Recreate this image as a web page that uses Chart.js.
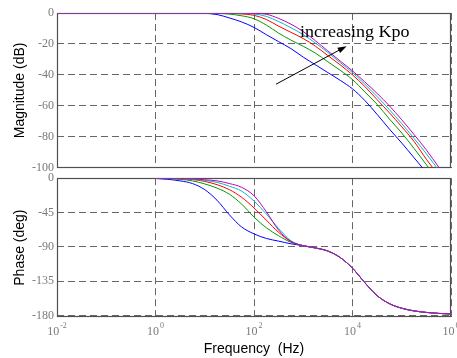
<!DOCTYPE html>
<html>
<head>
<meta charset="utf-8">
<title>Bode plot</title>
<script src="https://cdn.jsdelivr.net/npm/chart.js@4.4.1/dist/chart.umd.min.js"></script>
<style>
  body { margin: 0; background: #fff; }
  #wrap { position: relative; width: 457px; height: 358px; }
  #wrap canvas { position: absolute; left: 0; }
  #mag { top: 0; }
  #phase { top: 168px; }
</style>
</head>
<body>
<div id="wrap">
  <canvas id="mag" width="457" height="178"></canvas>
  <canvas id="phase" width="457" height="190"></canvas>
</div>
<script>
// frequency grid, quarter decades from 1 Hz up
const freqHz = [0.01, 0.1, 1, 1.78, 3.16, 5.62, 10, 17.8, 31.6, 56.2, 100, 178, 316, 562,
  1000, 1778, 3162, 5623, 10000, 17783, 31623, 56234, 100000, 177828, 316228, 562341, 1000000];
const phaseFreqHz = freqHz.slice(2);

// magnitude (dB), one list per Kpo value
const magBlue = [0, 0, 0, 0, 0, -0.05, -0.2, -1.0, -3.2, -5.8, -9.3, -14, -18.5, -23, -28.5, -33.5,
  -38.5, -43.5, -49, -56.5, -65.5, -75, -84, -93.5, -103];
const magGreen = [0, 0, 0, 0, 0, 0, 0, -0.2, -0.7, -1.8, -3.7, -7.8, -13, -17.5, -21.5, -26,
  -31.5, -37, -43, -51, -59, -68.5, -77.5, -87.5, -98, -108];
const magRed = [0, 0, 0, 0, 0, 0, 0, 0, -0.2, -0.6, -1.5, -4.2, -8.5, -12.5, -16.5, -21.5,
  -27.5, -33.5, -40, -47.5, -56, -64.5, -73.5, -83, -94.5, -105];
const magCyan = [0, 0, 0, 0, 0, 0, 0, 0, 0, -0.2, -0.6, -2.2, -5.5, -9.5, -14, -19.5,
  -25.5, -32, -38.5, -46, -54, -62.5, -71.5, -81, -91, -101.5];
const magMagenta = [0, 0, 0, 0, 0, 0, 0, 0, 0, 0, -0.2, -0.8, -3.5, -7.2, -12, -18,
  -24.5, -31, -37.4, -44.5, -52, -60, -69, -78.5, -88.5, -99.5, -110];

// phase (deg) from 1 Hz; above 1 kHz all curves lie on the same tail
const phaseTail = [-88.5, -91.5, -95.5, -104, -118, -137, -154, -164.5, -170.5, -174, -176, -177.3, -178];
const phaseBlue = [-0.3, -1.5, -3.5, -7, -15, -29, -48, -64, -73, -79, -82.5, -86, ...phaseTail];
const phaseGreen = [-0.2, -0.6, -1.5, -3.5, -7.5, -13, -21, -34, -51, -65, -75.5, -84, ...phaseTail];
const phaseRed = [-0.1, -0.3, -0.7, -1.8, -4.2, -8.5, -15, -25, -39, -55, -71, -83, ...phaseTail];
const phaseCyan = [0, -0.2, -0.5, -1.2, -3, -5.5, -10.5, -17, -30, -47, -66, -82, ...phaseTail];
const phaseMagenta = [0, -0.1, -0.3, -0.8, -2, -3.5, -7, -12, -23, -44, -68, -83, ...phaseTail];

const magTicks = [0, -20, -40, -60, -80, -100];
const phaseTicks = [0, -45, -90, -135, -180];
const decadeExponents = [-2, 0, 2, 4, 6];

const seriesColors = ['#0000ff', '#009900', '#ff0000', '#00bfbf', '#bf00bf'];
const serif = '"Liberation Serif", "Times New Roman", serif';
const sans = '"Liberation Sans", Arial, sans-serif';
const gridColor = 'rgba(85,85,85,0.9)';
const tickColor = '#7a7a7a';

// arrow and caption, in data units of the magnitude plot
const arrowFrom = { x: 280, y: -46 };
const arrowTo = { x: 7600, y: -21.4 };
const captionAt = { x: 860, y: -15.8 };

function makeDatasets(series, freqs) {
    return series.map((values, i) => ({
        data: values.map((v, j) => ({ x: freqs[j], y: v })),
        borderColor: seriesColors[i],
        borderWidth: 1,
        pointRadius: 0,
        fill: false,
        cubicInterpolationMode: 'monotone',
        order: series.length - i
    }));
}

function xAxis(height, withTitle) {
    return {
        type: 'logarithmic',
        min: 0.01,
        max: 1e6,
        afterBuildTicks: s => { s.ticks = decadeExponents.map(e => ({ value: Math.pow(10, e) })); },
        ticks: { display: false },
        grid: { color: gridColor, drawTicks: false },
        border: { display: false, dash: [7, 4] },
        title: {
            display: withTitle,
            text: 'Frequency  (Hz)',
            color: '#000',
            font: { family: sans, size: 14 },
            padding: { top: 0, bottom: 0 }
        },
        afterFit: s => { s.height = height; }
    };
}

function yAxis(min, max, ticks, title) {
    return {
        min: min,
        max: max,
        afterBuildTicks: s => { s.ticks = ticks.map(v => ({ value: v })); },
        ticks: { color: tickColor, font: { family: serif, size: 12 }, padding: 3 },
        grid: { color: gridColor, drawTicks: false },
        border: { display: false, dash: [7, 4] },
        title: {
            display: true,
            text: title,
            color: '#000',
            font: { family: sans, size: 14 },
            padding: { top: 12, bottom: 0 }
        },
        afterFit: s => { s.width = 57; }
    };
}

// box round the plot area, under the curves
const frame = {
    id: 'frame',
    beforeDatasetsDraw(chart) {
        const a = chart.chartArea;
        const ctx = chart.ctx;
        ctx.save();
        ctx.strokeStyle = '#505050';
        ctx.lineWidth = 1.2;
        ctx.strokeRect(Math.round(a.left) + 0.5, Math.round(a.top) + 0.5,
            Math.round(a.right - a.left) - 1, Math.round(a.bottom - a.top) - 1);
        ctx.restore();
    }
};

const caption = {
    id: 'caption',
    afterDatasetsDraw(chart) {
        const xs = chart.scales.x;
        const ys = chart.scales.y;
        const ctx = chart.ctx;
        const x1 = xs.getPixelForValue(arrowFrom.x), y1 = ys.getPixelForValue(arrowFrom.y);
        const x2 = xs.getPixelForValue(arrowTo.x), y2 = ys.getPixelForValue(arrowTo.y);
        const ang = Math.atan2(y2 - y1, x2 - x1);

        ctx.save();
        ctx.strokeStyle = '#000';
        ctx.fillStyle = '#000';
        ctx.lineWidth = 1;
        ctx.beginPath();
        ctx.moveTo(x1, y1);
        ctx.lineTo(x2 - 6 * Math.cos(ang), y2 - 6 * Math.sin(ang));
        ctx.stroke();
        ctx.beginPath();
        ctx.moveTo(x2, y2);
        ctx.lineTo(x2 - 9 * Math.cos(ang) + 3 * Math.sin(ang), y2 - 9 * Math.sin(ang) - 3 * Math.cos(ang));
        ctx.lineTo(x2 - 9 * Math.cos(ang) - 3 * Math.sin(ang), y2 - 9 * Math.sin(ang) + 3 * Math.cos(ang));
        ctx.closePath();
        ctx.fill();

        // the caption runs a little wide, like the rest of the figure text
        const cx = xs.getPixelForValue(captionAt.x);
        const cy = ys.getPixelForValue(captionAt.y);
        ctx.translate(cx, cy);
        ctx.scale(1.06, 1);
        ctx.font = '17px ' + serif;
        ctx.textBaseline = 'alphabetic';
        ctx.textAlign = 'left';
        ctx.fillText('increasing Kpo', 0, 0);
        ctx.restore();
    }
};

// 10^n labels under the frequency axis
const decadeLabels = {
    id: 'decadeLabels',
    afterDraw(chart) {
        const xs = chart.scales.x;
        const ctx = chart.ctx;
        const baseY = chart.chartArea.bottom + 18;
        ctx.save();
        ctx.fillStyle = tickColor;
        ctx.textBaseline = 'alphabetic';
        ctx.textAlign = 'left';
        decadeExponents.forEach(e => {
            const px = xs.getPixelForValue(Math.pow(10, e));
            ctx.font = '12px ' + serif;
            const wBase = ctx.measureText('10').width;
            ctx.font = '8px ' + serif;
            const expText = e < 0 ? '-' + Math.abs(e) : String(e);
            const wExp = ctx.measureText(expText).width;
            const left = px - (wBase + wExp + 1) / 2;
            ctx.font = '12px ' + serif;
            ctx.fillText('10', left, baseY);
            ctx.font = '8px ' + serif;
            ctx.fillText(expText, left + wBase + 1, baseY - 7);
        });
        ctx.restore();
    }
};

const common = {
    responsive: false,
    animation: false,
    devicePixelRatio: 1,
    events: [],
    plugins: { legend: { display: false }, tooltip: { enabled: false } }
};

new Chart(document.getElementById('mag'), {
    type: 'line',
    data: { datasets: makeDatasets([magBlue, magGreen, magRed, magCyan, magMagenta], freqHz) },
    options: Object.assign({}, common, {
        layout: { padding: { top: 13, right: 6, bottom: 9, left: 0 } },
        scales: {
            x: xAxis(0, false),
            y: yAxis(-100, 0, magTicks, 'Magnitude (dB)')
        }
    }),
    plugins: [frame, caption]
});

new Chart(document.getElementById('phase'), {
    type: 'line',
    data: { datasets: makeDatasets([phaseBlue, phaseGreen, phaseRed, phaseCyan, phaseMagenta], phaseFreqHz) },
    options: Object.assign({}, common, {
        layout: { padding: { top: 10, right: 6, bottom: 0, left: 0 } },
        scales: {
            x: xAxis(41, true),
            y: yAxis(-182, 0, phaseTicks, 'Phase (deg)')
        }
    }),
    plugins: [frame, decadeLabels]
});
</script>
</body>
</html>
